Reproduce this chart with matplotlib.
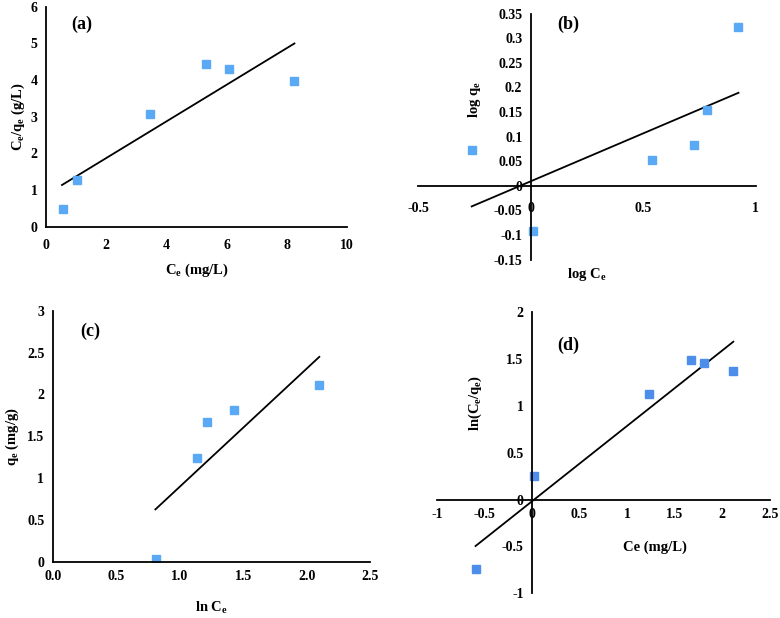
import matplotlib.pyplot as plt

plt.rcParams['font.family'] = ['Liberation Serif', 'DejaVu Serif']
plt.rcParams['font.weight'] = 'bold'
plt.rcParams['mathtext.fontset'] = 'custom'
plt.rcParams['mathtext.rm'] = 'Liberation Serif:bold'
plt.rcParams['mathtext.it'] = 'Liberation Serif:bold'
plt.rcParams['mathtext.bf'] = 'Liberation Serif:bold'

# (a) Langmuir
a_x = [0.58, 1.04, 3.46, 5.32, 6.08, 8.23]
a_y = [0.48, 1.28, 3.08, 4.44, 4.30, 3.97]
a_fit_x = [0.53, 8.25]
a_fit_y = [1.14, 5.00]

# (b) Freundlich
b_x = [-0.259, 0.009, 0.539, 0.726, 0.785, 0.919]
b_y = [0.072, -0.092, 0.052, 0.082, 0.154, 0.322]
b_fit_x = [-0.262, 0.923]
b_fit_y = [-0.042, 0.189]

# (c) Temkin
c_x = [0.814, 1.134, 1.213, 1.431, 2.096]
c_y = [0.032, 1.24, 1.67, 1.81, 2.11]
c_fit_x = [0.809, 2.10]
c_fit_y = [0.626, 2.45]

# (d)
d_x = [-0.593, 0.025, 1.232, 1.67, 1.807, 2.109]
d_y = [-0.745, 0.248, 1.124, 1.493, 1.454, 1.376]
d_fit_x = [-0.593, 2.116]
d_fit_y = [-0.496, 1.684]

BLUE = '#5aa9f5'
BLUE_D = '#4c8eea'
TICK_FS = 10
LAB_FS = 10.5
PANEL_FS = 13

fig = plt.figure(figsize=(7.8, 6.18), dpi=100)

ax_a = fig.add_axes([0.059, 0.633, 0.386, 0.356])
ax_b = fig.add_axes([0.536, 0.580, 0.433, 0.398])
ax_c = fig.add_axes([0.0675, 0.091, 0.407, 0.406])
ax_d = fig.add_axes([0.560, 0.040, 0.427, 0.455])


def style(ax, center=False, xpad=6):
    for s in ['top', 'right']:
        ax.spines[s].set_visible(False)
    for s in ['left', 'bottom']:
        ax.spines[s].set_linewidth(1.3)
    if center:
        ax.spines['left'].set_position(('data', 0))
        ax.spines['bottom'].set_position(('data', 0))
    ax.tick_params(length=0, labelsize=TICK_FS, pad=6)
    ax.tick_params(axis='x', pad=xpad)
    for lab in ax.get_xticklabels() + ax.get_yticklabels():
        lab.set_fontweight('bold')


# (a)
ax_a.plot(a_fit_x, a_fit_y, color='black', lw=1.3)
ax_a.plot(a_x, a_y, 's', color=BLUE, ms=6)
ax_a.set_xlim(0, 10)
ax_a.set_ylim(0, 6)
ax_a.set_xticks([0, 2, 4, 6, 8, 10])
ax_a.set_yticks([0, 1, 2, 3, 4, 5, 6])
style(ax_a, xpad=9)
ax_a.set_xlabel('C$_e$ (mg/L)', fontsize=LAB_FS, fontweight='bold', labelpad=7)
ax_a.set_ylabel('C$_e$/q$_e$ (g/L)', fontsize=LAB_FS, fontweight='bold', labelpad=3)
ax_a.text(0.12, 0.92, '(a)', transform=ax_a.transAxes, fontsize=PANEL_FS, fontweight='bold', ha='center', va='center')

# (b)
ax_b.plot(b_fit_x, b_fit_y, color='black', lw=1.3)
ax_b.plot(b_x, b_y, 's', color=BLUE, ms=6)
ax_b.set_xlim(-0.5, 1)
ax_b.set_ylim(-0.15, 0.35)
ax_b.set_xticks([-0.5, 0, 0.5, 1])
ax_b.set_xticklabels(['-0.5', '0', '0.5', '1'])
ax_b.set_yticks([-0.15, -0.1, -0.05, 0, 0.05, 0.1, 0.15, 0.2, 0.25, 0.3, 0.35])
ax_b.set_yticklabels(['-0.15', '-0.1', '-0.05', '0', '0.05', '0.1', '0.15', '0.2', '0.25', '0.3', '0.35'])
style(ax_b, center=True, xpad=12)
ax_b.text(-0.25, 0.175, 'log q$_e$', fontsize=LAB_FS, fontweight='bold', rotation=90, ha='center', va='center')
ax_b.text(0.25, -0.18, 'log C$_e$', fontsize=LAB_FS, fontweight='bold', ha='center', va='center')
ax_b.text(0.167, 0.328, '(b)', fontsize=PANEL_FS, fontweight='bold', ha='center', va='center')

# (c)
ax_c.plot(c_fit_x, c_fit_y, color='black', lw=1.3)
ax_c.plot(c_x, c_y, 's', color=BLUE, ms=6)
ax_c.set_xlim(0, 2.5)
ax_c.set_ylim(0, 3)
ax_c.set_xticks([0, 0.5, 1.0, 1.5, 2.0, 2.5])
ax_c.set_xticklabels(['0.0', '0.5', '1.0', '1.5', '2.0', '2.5'])
ax_c.set_yticks([0, 0.5, 1, 1.5, 2, 2.5, 3])
ax_c.set_yticklabels(['0', '0.5', '1', '1.5', '2', '2.5', '3'])
style(ax_c)
ax_c.set_xlabel('ln C$_e$', fontsize=LAB_FS, fontweight='bold', labelpad=12)
ax_c.set_ylabel('q$_e$ (mg/g)', fontsize=LAB_FS, fontweight='bold', labelpad=4)
ax_c.text(0.12, 0.92, '(c)', transform=ax_c.transAxes, fontsize=PANEL_FS, fontweight='bold', ha='center', va='center')

# (d)
ax_d.plot(d_fit_x, d_fit_y, color='black', lw=1.3)
ax_d.plot(d_x, d_y, 's', color=BLUE_D, ms=6)
ax_d.set_xlim(-1, 2.5)
ax_d.set_ylim(-1, 2)
ax_d.set_xticks([-1, -0.5, 0, 0.5, 1, 1.5, 2, 2.5])
ax_d.set_xticklabels(['-1', '-0.5', '0', '0.5', '1', '1.5', '2', '2.5'])
ax_d.set_yticks([-1, -0.5, 0, 0.5, 1, 1.5, 2])
ax_d.set_yticklabels(['-1', '-0.5', '0', '0.5', '1', '1.5', '2'])
style(ax_d, center=True)
ax_d.text(-0.6, 1.03, 'ln(C$_e$/q$_e$)', fontsize=LAB_FS, fontweight='bold', rotation=90, ha='center', va='center')
ax_d.text(1.29, -0.51, 'Ce (mg/L)', fontsize=LAB_FS, fontweight='bold', ha='center', va='center')
ax_d.text(0.38, 1.65, '(d)', fontsize=PANEL_FS, fontweight='bold', ha='center', va='center')

fig.savefig('out.png', dpi=100)
